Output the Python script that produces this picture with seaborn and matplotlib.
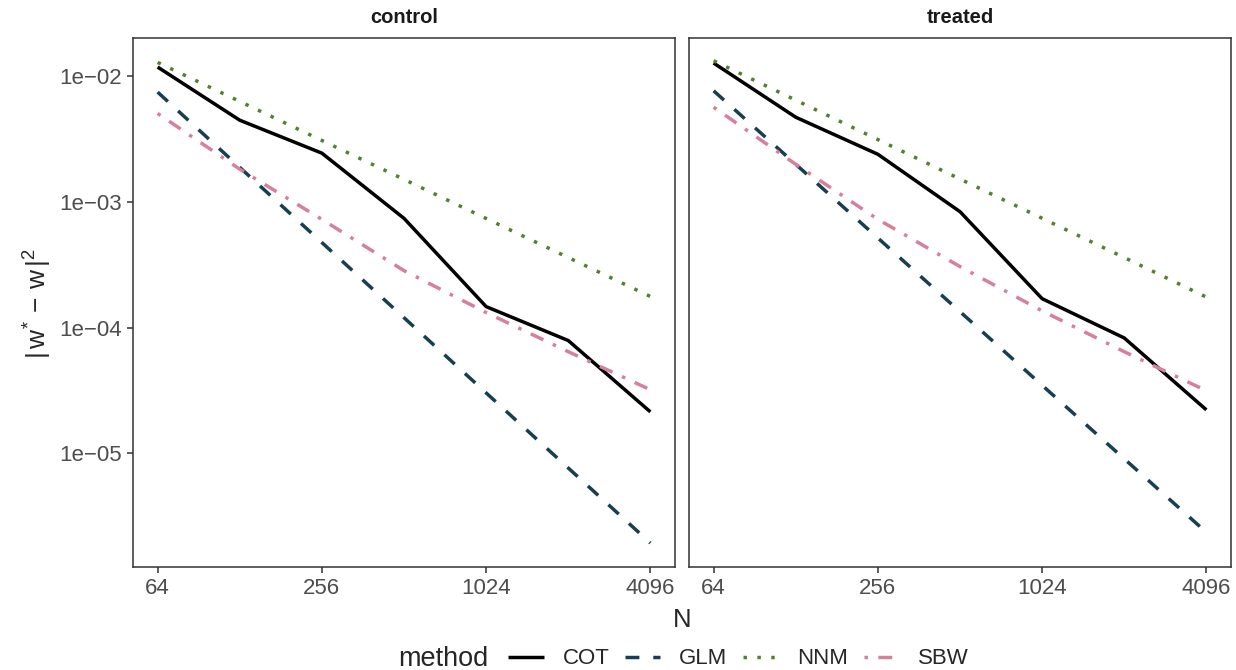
import numpy as np
import pandas as pd
import matplotlib
matplotlib.use("Agg")
import matplotlib.pyplot as plt
import matplotlib.ticker as mticker
from matplotlib.lines import Line2D
import seaborn as sns

# ---- data ----
N = [64, 128, 256, 512, 1024, 2048, 4096]
methods = ["COT", "GLM", "NNM", "SBW"]
panels = ["control", "treated"]

control_COT = [0.0118, 0.00446, 0.00244, 0.00074, 1.47e-4, 7.9e-5, 2.14e-5]
control_GLM = [0.00746, 0.00188, 4.75e-4, 1.2e-4, 3.03e-5, 7.66e-6, 1.94e-6]
control_NNM = [0.01285, 0.00629, 0.00308, 0.00151, 7.38e-4, 3.61e-4, 1.77e-4]
control_SBW = [0.00505, 0.00182, 7.26e-4, 2.84e-4, 1.32e-4, 6.44e-5, 3.21e-5]

treated_COT = [0.0127, 0.00471, 0.00239, 8.36e-4, 1.70e-4, 8.28e-5, 2.22e-5]
treated_GLM = [0.00764, 0.00199, 5.16e-4, 1.34e-4, 3.48e-5, 9.06e-6, 2.36e-6]
treated_NNM = [0.01324, 0.00644, 0.00313, 0.00152, 7.41e-4, 3.61e-4, 1.75e-4]
treated_SBW = [0.00566, 0.00199, 7.26e-4, 3.06e-4, 1.36e-4, 6.44e-5, 3.15e-5]

y_ticks = [1e-2, 1e-3, 1e-4, 1e-5]
y_tick_labels = ["1e\u221202", "1e\u221203", "1e\u221204", "1e\u221205"]
x_ticks = [64, 256, 1024, 4096]
x_tick_labels = ["64", "256", "1024", "4096"]

series = {
    "control": {"COT": control_COT, "GLM": control_GLM, "NNM": control_NNM, "SBW": control_SBW},
    "treated": {"COT": treated_COT, "GLM": treated_GLM, "NNM": treated_NNM, "SBW": treated_SBW},
}
rows = []
for p in panels:
    for m in methods:
        for n, v in zip(N, series[p][m]):
            rows.append({"panel": p, "method": m, "N": n, "err": v})
df = pd.DataFrame(rows)

# ---- style ----
sns.set_theme(style="white")
plt.rcParams["font.family"] = ["Liberation Sans", "DejaVu Sans"]
plt.rcParams["mathtext.fontset"] = "custom"
plt.rcParams["mathtext.rm"] = "Liberation Sans"
plt.rcParams["mathtext.it"] = "Liberation Sans"
plt.rcParams["lines.solid_capstyle"] = "butt"
plt.rcParams["lines.dash_capstyle"] = "butt"

palette = {"COT": "#000000", "GLM": "#164052", "NNM": "#54802C", "SBW": "#D6809A"}
dashes = {"COT": "", "GLM": (4, 4), "NNM": (1, 3), "SBW": (1, 3, 4, 3)}
LW = 2.5

fig = plt.figure(figsize=(12.36, 6.70), dpi=100)
ax_w = 542 / 1236
ax_b = 1 - 567 / 670
ax_h = (567 - 38) / 670
axes = [fig.add_axes([133 / 1236, ax_b, ax_w, ax_h]),
        fig.add_axes([689 / 1236, ax_b, ax_w, ax_h])]

tick_col = "#4D4D4D"
for i, (ax, p) in enumerate(zip(axes, panels)):
    sub = df[df["panel"] == p]
    sns.lineplot(data=sub, x="N", y="err", hue="method", style="method",
                 palette=palette, dashes=dashes, hue_order=methods, style_order=methods,
                 linewidth=LW, ax=ax, legend=False)
    ax.set_xscale("log", base=2)
    ax.set_yscale("log")
    ax.set_ylim(10 ** -5.903, 10 ** -1.697)
    ax.set_xlim(2 ** 5.7, 2 ** 12.3)
    ax.xaxis.set_major_locator(mticker.FixedLocator(x_ticks))
    ax.xaxis.set_major_formatter(mticker.FixedFormatter(x_tick_labels))
    ax.xaxis.set_minor_locator(mticker.NullLocator())
    ax.yaxis.set_major_locator(mticker.FixedLocator(y_ticks))
    ax.yaxis.set_minor_locator(mticker.NullLocator())
    ax.tick_params(axis="both", which="major", direction="out", length=4, width=1.1,
                   color="#333333", labelsize=16, labelcolor=tick_col, pad=4,
                   left=(i == 0), bottom=True, labelleft=(i == 0))
    if i == 0:
        ax.yaxis.set_major_formatter(mticker.FixedFormatter(y_tick_labels))
    for s in ax.spines.values():
        s.set_color("#333333")
        s.set_linewidth(1.1)
    ax.grid(False)
    ax.set_xlabel("")
    ax.set_ylabel("")
    ax.set_title(p, fontsize=14.5, fontweight="bold", color="#1A1A1A", pad=11)

fig.text(682 / 1236, 1 - 620 / 670, "N", ha="center", va="center", fontsize=18.5)
fig.text(38 / 1236, 1 - 303 / 670, r"$|\,w^{*}\,-\,w\,|^{2}$", ha="center", va="center",
         rotation=90, fontsize=19)

# legend
fig.text(398 / 1236, 1 - 659 / 670, "method", ha="left", va="center", fontsize=19.5)
handles = []
for m in methods:
    if dashes[m]:
        handles.append(Line2D([0], [0], color=palette[m], lw=LW, dashes=dashes[m]))
    else:
        handles.append(Line2D([0], [0], color=palette[m], lw=LW, linestyle="-"))
fig.legend(handles, methods, loc="center left", bbox_to_anchor=(508 / 1236, 1 - 659 / 670),
           ncol=4, frameon=False, fontsize=16, handlelength=1.6, handletextpad=0.85,
           columnspacing=0.7, borderaxespad=0, borderpad=0)

fig.savefig("out.png", dpi=100)
